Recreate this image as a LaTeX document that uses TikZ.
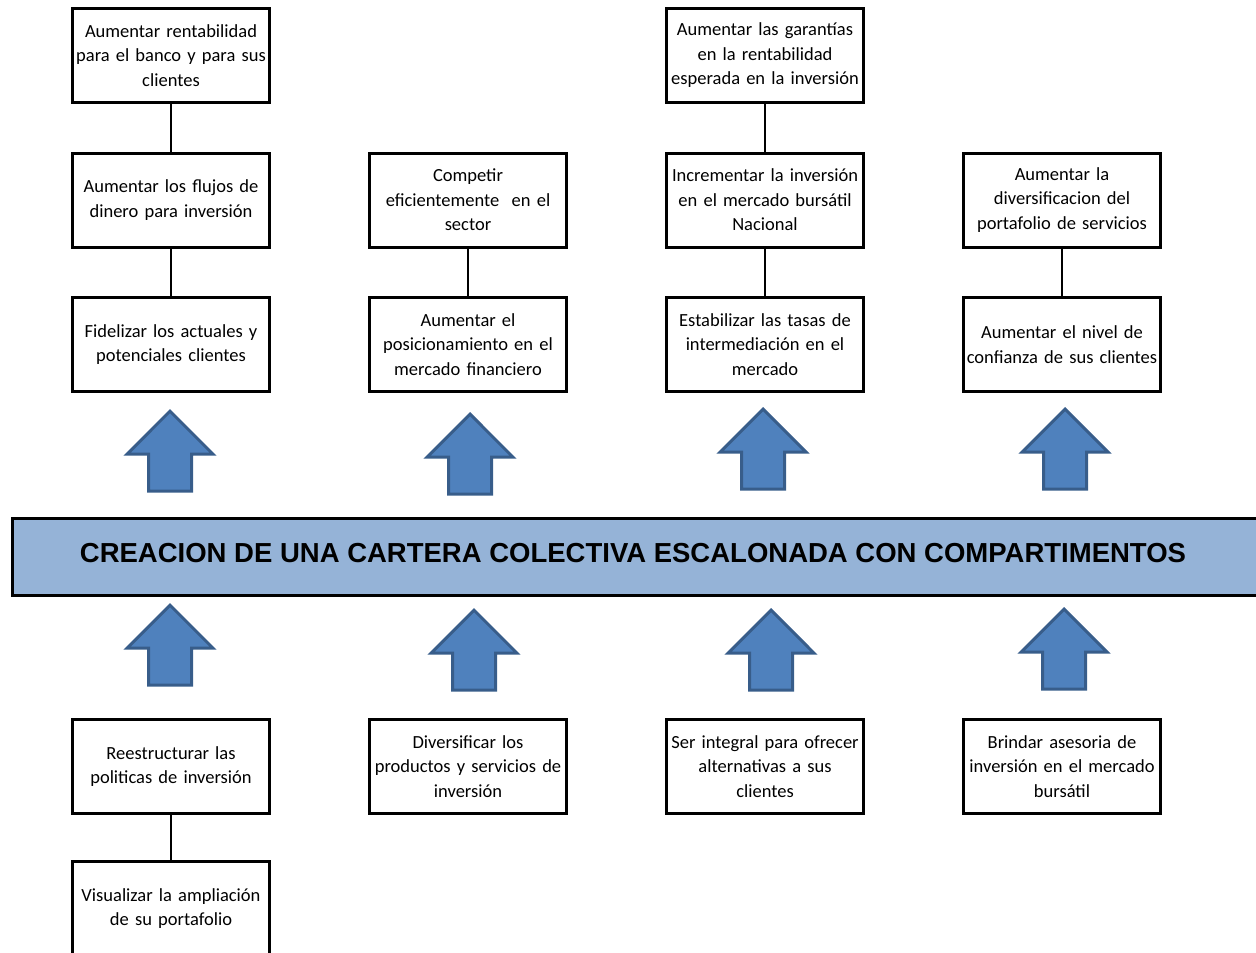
\documentclass[tikz,border=0pt]{standalone}
\usepackage{fontspec}
\setmainfont{Carlito}
\newfontfamily\bannerfont{Liberation Sans}
\usetikzlibrary{positioning}
\usetikzlibrary{shapes.arrows}
\definecolor{arrowfill}{HTML}{4F81BD}
\definecolor{arrowline}{HTML}{385D8A}
\definecolor{bannerfill}{HTML}{95B3D7}

\begin{document}
\begin{tikzpicture}[x=1pt,y=-1pt,
      objblock/.style={draw,rectangle,line width=3pt,text width=192pt,inner sep=2.5pt,
        minimum height=94pt,align=center,font=\fontsize{18.5}{24.5}\selectfont},
      bigarrow/.style={single arrow,shape border rotate=90,draw=arrowline,fill=arrowfill,
        line width=3pt,minimum height=80pt,inner xsep=20pt,inner ysep=0pt,
        single arrow head extend=21.5pt,single arrow tip angle=90,anchor=tip},
      banner/.style={draw,rectangle,fill=bannerfill,line width=3pt,
        minimum width=1280pt,minimum height=77pt,inner sep=0pt},
      link/.style={line width=2pt},
      node distance=47.5pt and 97pt]
      \useasboundingbox (0,0) rectangle (1256,953);
      \clip (0,0) rectangle (1256,953);

      % Blocks above
      \node[objblock] at (171,344.5)          (fidelizar)   {Fidelizar los actuales y\\potenciales clientes};
      \node[objblock,right=of fidelizar]      (posicion)    {Aumentar el\\posicionamiento en el\\mercado financiero};
      \node[objblock,right=of posicion]       (tasas)       {Estabilizar las tasas de\\intermediación en el\\mercado};
      \node[objblock,right=of tasas]          (confianza)   {Aumentar el nivel de\\confianza de sus clientes};
      \node[objblock,above=of fidelizar]      (flujos)      {Aumentar los flujos de\\dinero para inversión};
      \node[objblock,above=of posicion]       (competir)    {Competir\\eficientemente\ \ en el\\sector};
      \node[objblock,above=of tasas]          (bursatil)    {Incrementar la inversión\\en el mercado bursátil\\Nacional};
      \node[objblock,above=of confianza]      (portafolio)  {Aumentar la\\diversificacion del\\portafolio de servicios};
      \node[objblock,above=of flujos]         (rentab)      {Aumentar rentabilidad\\para el banco y para sus\\clientes};
      \node[objblock,above=of bursatil]       (garantias)   {Aumentar las garantías\\en la rentabilidad\\esperada en la inversión};

      % Banner
      \node[banner] at (652,557)              (cartera)     {};
      \node[font=\bannerfont\bfseries\fontsize{27.5}{32}\selectfont] at (633,553) (titulo)
        {CREACION DE UNA CARTERA COLECTIVA ESCALONADA CON COMPARTIMENTOS};

      % Blocks below
      \node[objblock] at (171,766.5)          (reestruct)   {Reestructurar las\\politicas de inversión};
      \node[objblock,right=of reestruct]      (diversif)    {Diversificar los\\productos y servicios de\\inversión};
      \node[objblock,right=of diversif]       (integral)    {Ser integral para ofrecer\\alternativas a sus\\clientes};
      \node[objblock,right=of integral]       (asesoria)    {Brindar asesoria de\\inversión en el mercado\\bursátil};
      \node[objblock,below=45pt of reestruct] (visual)      {Visualizar la ampliación\\de su portafolio};

      % Arrows
      \node[bigarrow] at (170,409)  (up1) {};
      \node[bigarrow] at (470,412)  (up2) {};
      \node[bigarrow] at (763,407)  (up3) {};
      \node[bigarrow] at (1065,407) (up4) {};
      \node[bigarrow] at (170,603)  (dn1) {};
      \node[bigarrow] at (474,608)  (dn2) {};
      \node[bigarrow] at (771,608)  (dn3) {};
      \node[bigarrow] at (1064,607) (dn4) {};

      % Links
      \draw[link] (rentab) -- (flujos) (flujos) -- (fidelizar);
      \draw[link] (competir) -- (posicion);
      \draw[link] (garantias) -- (bursatil) (bursatil) -- (tasas);
      \draw[link] (portafolio) -- (confianza);
      \draw[link] (reestruct) -- (visual);

    \end{tikzpicture}
\end{document}
